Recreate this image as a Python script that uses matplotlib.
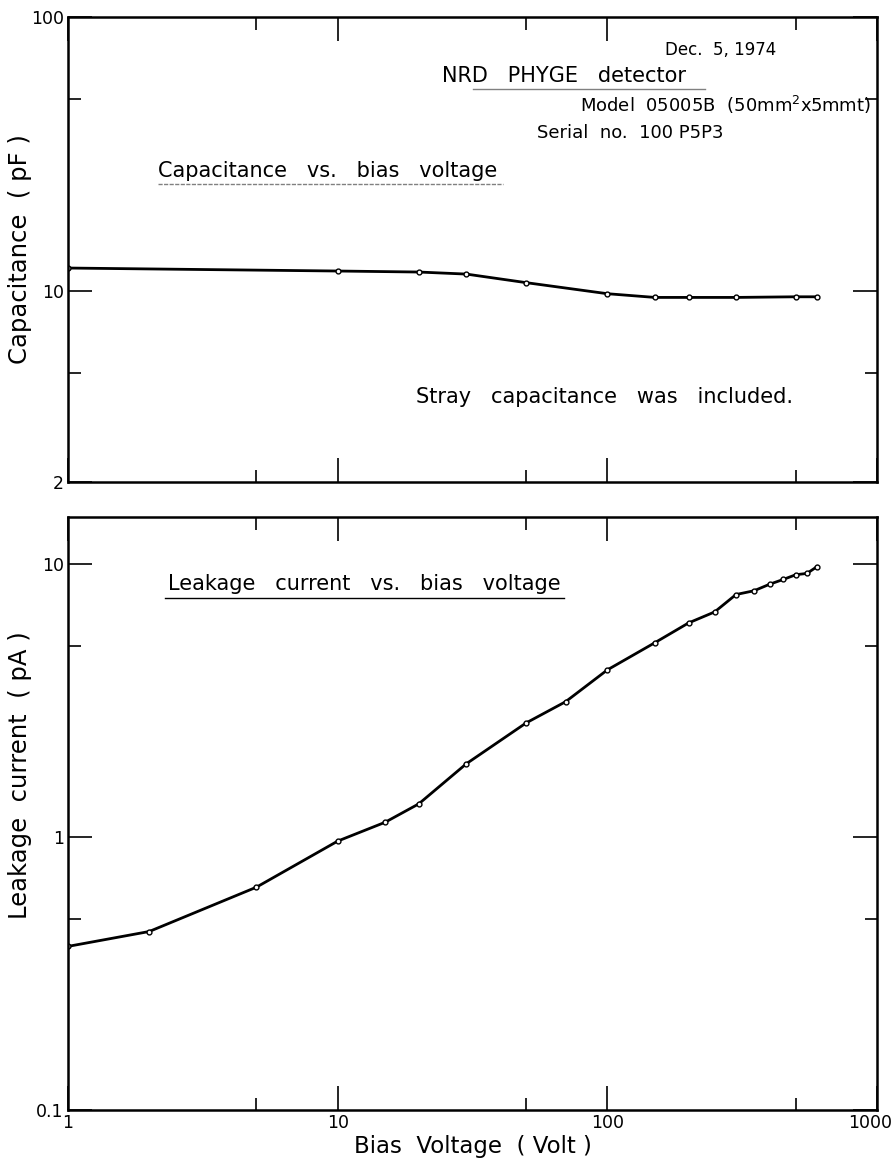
import matplotlib.pyplot as plt
from matplotlib.ticker import FixedLocator, NullFormatter
from matplotlib.transforms import ScaledTranslation

# Bias voltage (V) and capacitance (pF)
cap_volt = [1, 10, 20, 30, 50, 100, 150, 200, 300, 500, 600]
cap_pf = [12.1, 11.8, 11.7, 11.5, 10.7, 9.75, 9.45, 9.45, 9.45, 9.5, 9.5]

# Bias voltage (V) and leakage current (pA)
leak_volt = [1, 2, 5, 10, 15, 20, 30, 50, 70, 100, 150, 200, 250, 300,
             350, 400, 450, 500, 550, 600]
leak_pa = [0.397, 0.45, 0.654, 0.964, 1.13, 1.32, 1.85, 2.61, 3.12, 4.08,
           5.13, 6.06, 6.65, 7.7, 7.95, 8.4, 8.75, 9.1, 9.2, 9.75]

x_ticks = [1, 10, 100, 1000]
x_tick_labels = ['1', '10', '100', '1000']
x_minor = [5, 50, 500]

plt.rcParams['font.family'] = ['DejaVu Sans']

W, H = 894, 1165
fig = plt.figure(figsize=(W / 100, H / 100), dpi=100)


def box(left, top, right, bottom):
    return [left / W, 1 - bottom / H, (right - left) / W, (bottom - top) / H]


ax1 = fig.add_axes(box(68, 17, 877, 482))
ax2 = fig.add_axes(box(68, 517, 877, 1110))

for ax in (ax1, ax2):
    ax.set_xscale('log')
    ax.set_yscale('log')
    ax.set_xlim(1, 1000)
    for s in ax.spines.values():
        s.set_linewidth(1.8)
    ax.tick_params(which='both', direction='in', top=True, right=True,
                   width=1.2, labelsize=12.5, pad=3)
    ax.tick_params(which='major', length=17)
    ax.tick_params(which='minor', length=9)
    ax.xaxis.set_minor_locator(FixedLocator(x_minor))
    ax.xaxis.set_minor_formatter(NullFormatter())
    ax.yaxis.set_minor_formatter(NullFormatter())

# upper panel: capacitance
ax1.set_ylim(2, 100)
ax1.set_yticks([2, 10, 100])
ax1.set_yticklabels(['2', '10', '100'])
ax1.yaxis.set_minor_locator(FixedLocator([5, 50]))
ax1.set_xticks(x_ticks)
ax1.set_xticklabels([])
ax1.plot(cap_volt, cap_pf, color='black', lw=2.0, marker='o', ms=3.5,
         mfc='white', mec='black', mew=1.0)
ax1.set_ylabel('Capacitance  ( pF )', fontsize=17.5)
ax1.yaxis.set_label_coords(-0.045, 0.50)

ax1.text(0.738, 0.918, 'Dec.  5, 1974', transform=ax1.transAxes, fontsize=12)
ax1.text(0.462, 0.860, 'NRD   PHYGE   detector', transform=ax1.transAxes,
         fontsize=15)
ax1.plot([0.50, 0.787], [0.846, 0.846], transform=ax1.transAxes,
         color='gray', lw=1.0)
ax1.text(0.993, 0.796, 'Model  05005B  (50mm$^2$x5mmt)', transform=ax1.transAxes,
         fontsize=13, ha='right')
ax1.text(0.58, 0.740, 'Serial  no.  100 P5P3', transform=ax1.transAxes,
         fontsize=13)
ax1.text(0.111, 0.656, 'Capacitance   vs.   bias   voltage',
         transform=ax1.transAxes, fontsize=15)
ax1.plot([0.111, 0.538], [0.641, 0.641], transform=ax1.transAxes,
         color='gray', lw=1.0, ls=(0, (3, 1)))
ax1.text(0.43, 0.17, 'Stray   capacitance   was   included.',
         transform=ax1.transAxes, fontsize=15)

# lower panel: leakage current
ax2.set_ylim(0.1, 14.8)
ax2.set_yticks([0.1, 1, 10])
ax2.set_yticklabels(['0.1', '1', '10'])
ax2.yaxis.set_minor_locator(FixedLocator([0.5, 5]))
ax2.set_xticks(x_ticks)
ax2.set_xticklabels(x_tick_labels)
ax2.plot(leak_volt, leak_pa, color='black', lw=2.0, marker='o', ms=3.5,
         mfc='white', mec='black', mew=1.0)
ax2.set_ylabel('Leakage  current  ( pA )', fontsize=17.5)
ax2.yaxis.set_label_coords(-0.045, 0.565)
ax2.set_xlabel('Bias  Voltage  ( Volt )', fontsize=16.5, labelpad=2)

ax2.text(0.124, 0.877, 'Leakage   current   vs.   bias   voltage',
         transform=ax2.transAxes, fontsize=15)
ax2.plot([0.12, 0.613], [0.864, 0.864], transform=ax2.transAxes,
         color='black', lw=1.0)

# the last x label sits just left of the frame corner, as in the original
for lab in ax2.get_xticklabels():
    if lab.get_text() == '1000':
        lab.set_transform(lab.get_transform() +
                          ScaledTranslation(-7 / 100, 0, fig.dpi_scale_trans))

fig.savefig('out.png', dpi=100)
